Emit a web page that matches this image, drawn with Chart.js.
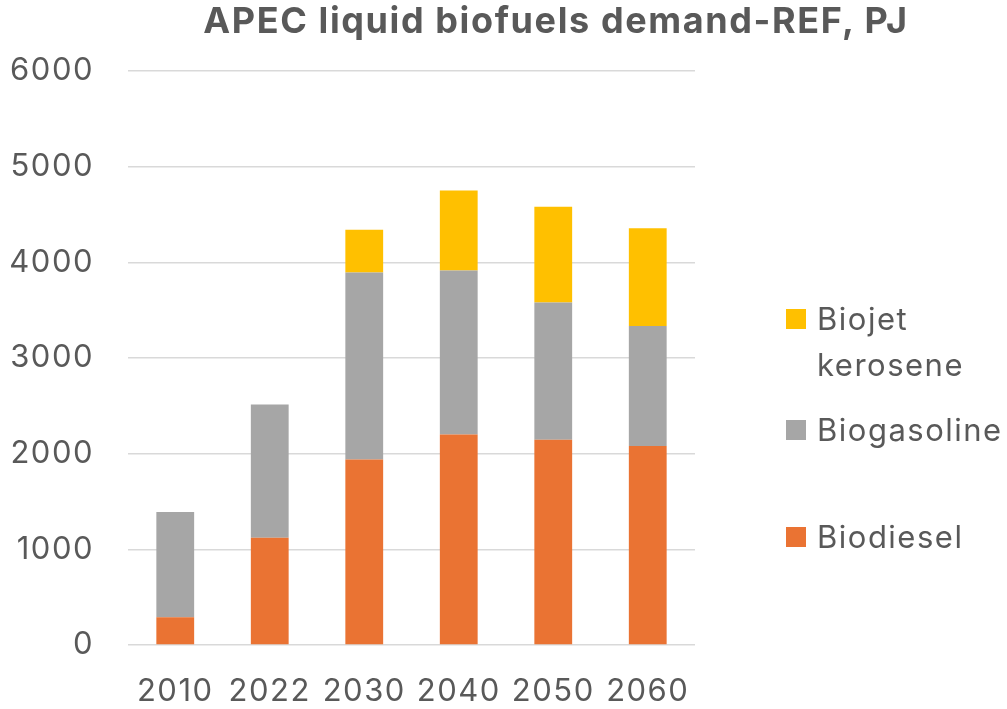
<!DOCTYPE html>
<html>
<head>
<meta charset="utf-8">
<script src="https://cdn.jsdelivr.net/npm/chart.js@4/dist/chart.umd.min.js"></script>
<style>
  html, body { margin: 0; padding: 0; background: #fff; }
  #wrap { position: relative; width: 1007px; height: 709px; font-family: "Inter", "Open Sans", sans-serif; color: #595959; }
  #title { position: absolute; left: 0; width: 1112px; top: -4px; text-align: center; font-size: 36px; font-weight: bold; line-height: 48px; letter-spacing: 1.6px; }
  #legend { position: absolute; left: 786px; top: 0; }
  .item { position: absolute; left: 0; white-space: nowrap; font-size: 31px; line-height: 46px; letter-spacing: 1.5px; }
  .box { position: absolute; left: 0; width: 20px; height: 20px; }
  .lbl { position: absolute; left: 31px; }
</style>
</head>
<body>
<div id="wrap">
  <canvas id="chart" width="1007" height="709"></canvas>
  <div id="title">APEC liquid biofuels demand-REF, PJ</div>
  <div id="legend"></div>
</div>
<script>
// values (PJ)
var years = ["2010", "2022", "2030", "2040", "2050", "2060"];
var biodiesel = [290, 1120, 1940, 2200, 2145, 2080];
var biogasoline = [1100, 1395, 1955, 1715, 1435, 1255];
var biojet = [0, 0, 445, 835, 1000, 1020];
var yMin = 0, yMax = 6000, yStep = 1000;

var seriesNames = ["Biodiesel", "Biogasoline", "Biojet kerosene"];
var seriesColors = ["#EA7333", "#A6A6A6", "#FFC000"];

// wider tick text, closer to the Excel font
var spacing = {
    id: "spacing",
    beforeInit: function(c){ c.ctx.letterSpacing = "1.5px"; },
    beforeDraw: function(c){ c.ctx.letterSpacing = "1.5px"; }
};

var ctx = document.getElementById("chart");
var chart = new Chart(ctx, {
    type: 'bar',
    plugins: [spacing],
    data: {
        labels: years,
        datasets: [
            { label: seriesNames[0], data: biodiesel, backgroundColor: seriesColors[0] },
            { label: seriesNames[1], data: biogasoline, backgroundColor: seriesColors[1] },
            { label: seriesNames[2], data: biojet, backgroundColor: seriesColors[2] }
        ]
    },
    options: {
        responsive: false,
        animation: false,
        layout: { padding: { top: 71, right: 312, left: 0, bottom: 0 } },
        datasets: { bar: { categoryPercentage: 1, barPercentage: 0.4 } },
        plugins: { legend: { display: false }, title: { display: false }, tooltip: { enabled: false } },
        scales: {
            x: {
                stacked: true,
                grid: { display: false, drawTicks: false },
                border: { display: false },
                ticks: { color: "#595959", padding: 28, font: { family: "Inter", size: 31 } },
                afterFit: function(s){ s.height = 64; }
            },
            y: {
                stacked: true,
                min: yMin,
                max: yMax,
                grid: { color: "#D9D9D9", lineWidth: 1.5, drawTicks: false },
                border: { display: false },
                ticks: {
                    stepSize: yStep, color: "#595959", padding: 34, font: { family: "Inter", size: 31 },
                    callback: function(v){ return String(v); }
                },
                afterFit: function(s){ s.width = 128; }
            }
        }
    }
});

// legend on the right, Excel style (top series first)
var legendItems = [
    { idx: 2, top: 296, lines: ["Biojet", "kerosene"] },
    { idx: 1, top: 407, lines: ["Biogasoline"] },
    { idx: 0, top: 514, lines: ["Biodiesel"] }
];
var legend = document.getElementById("legend");
legendItems.forEach(function(it){
    var d = document.createElement("div");
    d.className = "item";
    d.style.top = it.top + "px";
    d.innerHTML = '<div class="box" style="top:13px;background:' + seriesColors[it.idx] + '"></div>' +
        '<div class="lbl">' + it.lines.join("<br>") + '</div>';
    legend.appendChild(d);
});
</script>
</body>
</html>
